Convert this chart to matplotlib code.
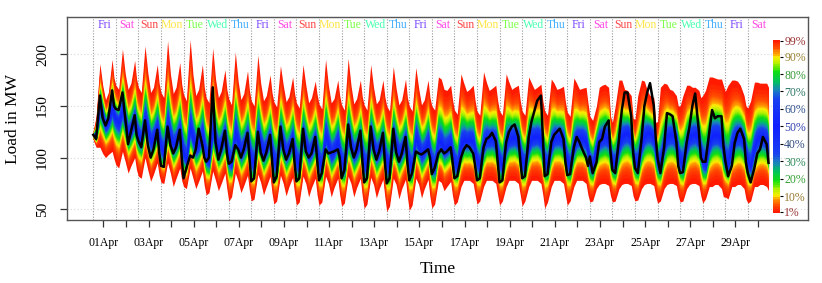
import numpy as np
import matplotlib
matplotlib.use("Agg")
import matplotlib.pyplot as plt
from matplotlib.colors import LinearSegmentedColormap
from statistics import NormalDist

# ---------------- data ----------------
HOURS = [0, 3, 7, 10, 13, 16, 20, 22]   # hours of each day at which values are given

MED = [
    [122, 121, 150, 141, 131, 135, 148, 141],
    [137, 134, 147, 135, 123, 127, 136, 126],
    [121, 117, 137, 126, 115, 119, 128, 118],
    [109, 105, 131, 120, 112, 115, 125, 113],
    [103, 99, 129, 118, 110, 113, 122, 111],
    [101, 97, 126, 116, 108, 112, 121, 109],
    [99, 95, 124, 114, 106, 110, 119, 107],
    [98, 94, 122, 113, 105, 109, 118, 106],
    [97, 93, 120, 112, 104, 108, 117, 105],
    [97, 93, 120, 112, 104, 107, 116, 105],
    [96, 92, 121, 112, 104, 107, 116, 104],
    [96, 92, 121, 112, 104, 107, 116, 104],
    [95, 92, 120, 112, 104, 107, 115, 104],
    [95, 91, 119, 111, 104, 107, 115, 103],
    [95, 91, 119, 111, 104, 107, 115, 103],
    [95, 91, 116, 114, 108, 110, 114, 103],
    [96, 92, 112, 117, 116, 117, 115, 104],
    [97, 92, 112, 118, 118, 119, 116, 104],
    [97, 92, 112, 118, 119, 120, 116, 104],
    [97, 93, 112, 119, 120, 121, 117, 105],
    [97, 93, 112, 119, 120, 120, 116, 104],
    [97, 92, 111, 118, 119, 119, 115, 104],
    [96, 92, 110, 117, 119, 121, 118, 105],
    [97, 93, 112, 120, 123, 124, 119, 105],
    [97, 93, 113, 121, 124, 124, 119, 105],
    [97, 93, 112, 120, 122, 122, 117, 104],
    [97, 93, 112, 120, 122, 123, 118, 105],
    [97, 93, 113, 121, 122, 122, 118, 105],
    [97, 93, 112, 119, 121, 121, 116, 104],
    [96, 92, 110, 118, 120, 120, 117, 105],
]

HI = [
    [126, 140, 191, 170, 156, 163, 195, 177],
    [170, 166, 205, 181, 166, 172, 194, 176],
    [168, 163, 208, 182, 163, 168, 190, 172],
    [163, 158, 213, 181, 162, 168, 192, 171],
    [161, 155, 214, 180, 160, 166, 190, 168],
    [158, 153, 206, 176, 158, 164, 185, 166],
    [157, 151, 202, 174, 156, 162, 184, 165],
    [155, 150, 199, 172, 155, 160, 180, 163],
    [154, 149, 189, 170, 154, 159, 178, 162],
    [153, 148, 190, 170, 153, 158, 174, 161],
    [152, 147, 195, 170, 153, 157, 175, 160],
    [151, 146, 196, 170, 152, 157, 175, 159],
    [151, 146, 190, 168, 152, 156, 175, 159],
    [150, 145, 188, 167, 151, 156, 176, 158],
    [150, 145, 187, 167, 151, 156, 175, 158],
    [150, 146, 178, 176, 166, 165, 170, 156],
    [146, 142, 181, 172, 164, 166, 170, 155],
    [145, 141, 183, 173, 165, 167, 170, 155],
    [145, 141, 181, 173, 166, 168, 170, 155],
    [145, 141, 178, 172, 166, 168, 171, 155],
    [145, 141, 176, 172, 166, 167, 169, 154],
    [144, 140, 177, 172, 166, 167, 168, 153],
    [140, 136, 150, 168, 170, 171, 168, 140],
    [134, 150, 175, 175, 166, 165, 160, 138],
    [137, 160, 175, 174, 165, 160, 158, 134],
    [135, 168, 172, 171, 166, 165, 160, 150],
    [150, 160, 170, 170, 168, 168, 165, 158],
    [160, 165, 178, 178, 177, 176, 176, 170],
    [164, 170, 175, 175, 174, 170, 160, 150],
    [148, 155, 173, 173, 172, 172, 172, 168],
]

LO = [
    [117, 110, 110, 104, 100, 103, 106, 99],
    [93, 90, 106, 96, 85, 92, 100, 88],
    [82, 80, 100, 88, 77, 84, 95, 83],
    [76, 75, 95, 85, 72, 80, 90, 78],
    [72, 70, 90, 80, 70, 77, 87, 73],
    [64, 66, 87, 78, 68, 75, 85, 70],
    [58, 62, 85, 77, 66, 73, 83, 68],
    [58, 60, 84, 76, 64, 72, 82, 66],
    [55, 58, 83, 75, 63, 72, 81, 65],
    [54, 57, 82, 75, 62, 71, 80, 64],
    [54, 57, 82, 75, 62, 71, 80, 64],
    [53, 56, 82, 75, 62, 71, 80, 63],
    [51, 55, 81, 74, 61, 70, 79, 62],
    [48, 53, 80, 74, 60, 70, 79, 62],
    [49, 54, 80, 74, 61, 70, 79, 62],
    [51, 55, 78, 76, 68, 72, 77, 63],
    [54, 57, 72, 78, 78, 78, 75, 64],
    [55, 58, 72, 78, 78, 78, 75, 64],
    [54, 58, 72, 78, 78, 78, 75, 64],
    [53, 58, 72, 78, 78, 78, 75, 64],
    [51, 57, 72, 78, 78, 78, 75, 64],
    [54, 58, 72, 78, 78, 78, 75, 64],
    [57, 58, 70, 74, 75, 75, 73, 63],
    [57, 58, 70, 74, 75, 75, 73, 63],
    [58, 59, 70, 74, 75, 75, 73, 63],
    [56, 58, 70, 74, 75, 75, 73, 63],
    [57, 58, 70, 74, 75, 75, 73, 63],
    [56, 60, 72, 72, 74, 74, 70, 62],
    [62, 60, 72, 72, 74, 74, 70, 60],
    [56, 58, 72, 72, 74, 74, 72, 68],
]

ACT = [
    [122, 118, 160, 138, 131, 138, 165, 150],
    [147, 146, 163, 138, 113, 125, 141, 122],
    [116, 110, 136, 112, 100, 108, 127, 105],
    [92, 91, 130, 112, 104, 110, 127, 100],
    [80, 90, 102, 100, 108, 128, 112, 100],
    [96, 100, 168, 115, 98, 108, 126, 105],
    [94, 96, 112, 108, 100, 108, 124, 100],
    [77, 80, 125, 105, 97, 105, 122, 98],
    [76, 82, 130, 108, 98, 104, 118, 95],
    [77, 80, 128, 106, 100, 104, 120, 98],
    [78, 85, 108, 104, 105, 106, 108, 100],
    [80, 88, 132, 110, 100, 108, 126, 98],
    [76, 80, 130, 108, 98, 106, 124, 96],
    [75, 80, 128, 105, 96, 104, 120, 95],
    [78, 85, 106, 104, 103, 105, 108, 100],
    [84, 90, 104, 108, 104, 106, 110, 96],
    [80, 82, 100, 108, 112, 110, 104, 92],
    [78, 80, 110, 118, 120, 124, 116, 96],
    [76, 78, 115, 125, 130, 132, 120, 98],
    [80, 82, 120, 135, 145, 155, 160, 120],
    [82, 84, 115, 122, 125, 128, 118, 96],
    [83, 84, 110, 120, 115, 108, 100, 92],
    [101, 85, 95, 115, 118, 130, 136, 105],
    [88, 85, 118, 146, 163, 163, 140, 105],
    [90, 85, 118, 150, 163, 172, 150, 120],
    [100, 85, 110, 143, 142, 140, 115, 92],
    [85, 86, 115, 130, 150, 162, 125, 100],
    [96, 96, 125, 146, 138, 140, 140, 112],
    [97, 82, 92, 114, 124, 128, 118, 95],
    [85, 76, 90, 104, 108, 120, 113, 95],
]

DAY_NAMES = ["Fri", "Sat", "Sun", "Mon", "Tue", "Wed", "Thu"] * 4 + ["Fri", "Sat"]
DATE_LABELS = ["01Apr", "03Apr", "05Apr", "07Apr", "09Apr", "11Apr", "13Apr", "15Apr",
               "17Apr", "19Apr", "21Apr", "23Apr", "25Apr", "27Apr", "29Apr"]
CB_LEVELS = [1, 10, 20, 30, 40, 50, 60, 70, 80, 90, 99]
CB_LABELS = ["1%", "10%", "20%", "30%", "40%", "50%", "60%", "70%", "80%", "90%", "99%"]
Y_TICKS = [50, 100, 150, 200]

# ---------------- styling ----------------
plt.rcParams['font.family'] = ['Liberation Serif', 'DejaVu Serif']

DAY_COLORS = {"Sun": "#FF0000", "Mon": "#FFDB00", "Tue": "#49FF00", "Wed": "#00FF92",
              "Thu": "#0092FF", "Fri": "#4900FF", "Sat": "#FF00DB"}
CB_TEXT_COLORS = ["#993333", "#99772E", "#33A033", "#2E8A5A", "#2F4A80", "#3040B0",
                  "#2F5090", "#2E7766", "#339933", "#998033", "#993333"]

fan_cmap = LinearSegmentedColormap.from_list("fan", [
    (0.00, "#FF1A00"), (0.08, "#FF5000"), (0.15, "#FFA000"), (0.19, "#FFEE00"),
    (0.27, "#A8F000"), (0.36, "#10E010"), (0.48, "#00C060"), (0.58, "#1A80C0"),
    (0.68, "#1840F0"), (1.00, "#1020FF")])

def level_color(p):
    d = min(p, 100 - p)
    return fan_cmap((d - 1) / 49.0)

t = np.array([d + h / 24.0 for d in range(len(MED)) for h in HOURS])
med = np.array(MED, float).ravel()
hi = np.array(HI, float).ravel()
lo = np.array(LO, float).ravel()
act = np.array(ACT, float).ravel()

nd = NormalDist()
z99 = nd.inv_cdf(0.99)

def qcurve(p):
    f = nd.inv_cdf(p / 100.0) / z99
    if p < 50:
        return med + (med - lo) * f
    return med + (hi - med) * f

fig = plt.figure(figsize=(8.22, 2.83), dpi=100)
ax = fig.add_axes([67 / 822, 1 - 220 / 283, (808 - 67) / 822, (220 - 17) / 283])

for yv in Y_TICKS:
    ax.axhline(yv, color="#D8D8D8", ls=(0, (1, 2)), lw=0.8, zorder=0)
for d in range(len(MED)):
    ax.axvline(d, color="#9A9A9A", ls=(0, (1, 1.5)), lw=0.8, zorder=0.5)

for p in range(1, 50):
    ax.fill_between(t, qcurve(p), qcurve(100 - p), color=level_color(p), lw=0, zorder=1)

ax.plot(t, act, color="black", lw=1.8, zorder=5)

for d, name in enumerate(DAY_NAMES):
    ax.text(d + 0.5, 227.8, name, color=DAY_COLORS[name], alpha=0.72, ha="center",
            va="center", fontsize=8.5)

ax.set_xlim(-1.165, 31.666)
ax.set_ylim(39.65, 235.98)

xt = [d + 0.45 for d in range(len(MED))]
ax.set_xticks(xt)
labs = []
for i in range(len(MED)):
    labs.append(DATE_LABELS[i // 2] if i % 2 == 0 else "")
ax.set_xticklabels(labs)
ax.set_yticks(Y_TICKS)
ax.set_yticklabels([str(v) for v in Y_TICKS], rotation=90, va="center")
ax.tick_params(axis="x", length=5, width=0.9, pad=7, labelsize=8.5, color="#333333")
ax.tick_params(axis="y", length=5, width=0.9, pad=8, labelsize=11, color="#333333")
ax.set_xlabel("Time", fontsize=12.5, labelpad=9)
ax.set_ylabel("Load in MW", fontsize=12.5, labelpad=11)
for s in ax.spines.values():
    s.set_color("#555555")
    s.set_linewidth(1.0)

# colour key
cax = fig.add_axes([772.7 / 822, 1 - 212.7 / 283, 7.3 / 822, (212.7 - 40) / 283])
for p in range(1, 100):
    cax.axhspan(p - 0.5, p + 0.5, color=level_color(p), lw=0)
cax.set_ylim(0.5, 99.5)
cax.set_xlim(0, 1)
cax.set_xticks([])
for s in cax.spines.values():
    s.set_visible(False)
cax.yaxis.tick_right()
cax.set_yticks(CB_LEVELS)
cax.set_yticklabels(CB_LABELS)
cax.tick_params(axis="y", length=2.5, width=0.8, pad=0.5, labelsize=8.5)
for tick, col in zip(cax.yaxis.get_major_ticks(), CB_TEXT_COLORS):
    tick.label2.set_color(col)
    tick.tick2line.set_color(col)

fig.savefig("out.png", dpi=100)
